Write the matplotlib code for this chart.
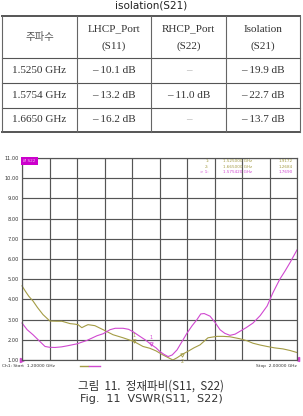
import numpy as np
import matplotlib
matplotlib.use("Agg")
from matplotlib import pyplot as plt

plt.rcParams['font.family'] = ['DejaVu Sans', 'Noto Sans CJK KR']

# table data
title = "isolation(S21)"
header = ["주파수", "LHCP_Port\n(S11)", "RHCP_Port\n(S22)", "Isolation\n(S21)"]
freq_col = ["1.5250 GHz", "1.5754 GHz", "1.6650 GHz"]
lhcp_col = ["– 10.1 dB", "– 13.2 dB", "– 16.2 dB"]
rhcp_col = ["–", "– 11.0 dB", "–"]
iso_col = ["– 19.9 dB", "– 22.7 dB", "– 13.7 dB"]

# VSWR curves (GHz, VSWR)
s11_f = [1.200, 1.210, 1.220, 1.232, 1.245, 1.261, 1.281, 1.300, 1.316, 1.330, 1.340,
         1.352, 1.363, 1.374, 1.383, 1.392, 1.412, 1.436, 1.465, 1.494, 1.525, 1.552,
         1.572, 1.590, 1.610, 1.625, 1.639, 1.652, 1.665, 1.685, 1.700, 1.718, 1.741,
         1.767, 1.785, 1.805, 1.834, 1.855, 1.872, 1.893, 1.913, 1.935, 1.959, 1.980, 2.000]
s11_v = [4.67, 4.40, 4.15, 3.92, 3.60, 3.25, 2.93, 2.92, 2.92, 2.85, 2.80,
         2.78, 2.75, 2.60, 2.68, 2.75, 2.70, 2.50, 2.25, 2.10, 1.92, 1.67,
         1.58, 1.45, 1.25, 1.12, 1.00, 1.12, 1.27, 1.45, 1.60, 1.75, 2.10,
         2.17, 2.17, 2.15, 2.05, 1.95, 1.83, 1.74, 1.67, 1.60, 1.55, 1.47, 1.37]
s22_f = [1.200, 1.215, 1.232, 1.250, 1.267, 1.280, 1.296, 1.315, 1.331, 1.360, 1.389,
         1.418, 1.436, 1.456, 1.471, 1.494, 1.510, 1.523, 1.543, 1.560, 1.5754, 1.590,
         1.601, 1.613, 1.625, 1.637, 1.651, 1.665, 1.680, 1.695, 1.709, 1.720, 1.730,
         1.747, 1.762, 1.776, 1.790, 1.805, 1.820, 1.834, 1.852, 1.872, 1.893, 1.913,
         1.930, 1.950, 1.965, 1.980, 2.000]
s22_v = [2.83, 2.50, 2.25, 1.95, 1.67, 1.63, 1.62, 1.65, 1.70, 1.80, 1.97,
         2.20, 2.30, 2.50, 2.57, 2.57, 2.52, 2.40, 2.17, 1.98, 1.77, 1.60,
         1.42, 1.28, 1.17, 1.25, 1.50, 1.90, 2.33, 2.70, 3.00, 3.28, 3.30,
         3.17, 2.85, 2.50, 2.32, 2.22, 2.28, 2.42, 2.60, 2.83, 3.20, 3.67,
         4.33, 5.00, 5.40, 5.83, 6.45]

# markers
mk_labels = ["1", "2"]
mk_f = [1.525, 1.665]
mk_v = [1.9172, 1.2684]
mk22_f = 1.57542
mk22_v = 1.7690

olive = "#a49c45"
magenta = "#d048d0"
gridc = "#555555"

fig = plt.figure(figsize=(3.03, 4.16), dpi=100)

# page overlay in pixel coords
ax0 = fig.add_axes([0, 0, 1, 1])
ax0.set_xlim(0, 303)
ax0.set_ylim(416, 0)
ax0.axis('off')

ax0.text(151, 6, title, ha='center', va='center', fontsize=7.5, color='#222222')

col_x = [2, 77, 151, 226, 300]
row_y = [16, 58, 83, 108, 132]
for i, y in enumerate(row_y):
    lw = 1.4 if i in (0, len(row_y) - 1) else 0.8
    ax0.plot([col_x[0], col_x[-1]], [y, y], color='#555555', lw=lw)
for x in col_x:
    ax0.plot([x, x], [row_y[0], row_y[-1]], color='#666666', lw=0.8)

serif = ['Liberation Serif', 'Noto Sans CJK KR']
centers = [(col_x[i] + col_x[i + 1]) / 2 for i in range(4)]
ax0.text(centers[0], 37, header[0], ha='center', va='center', fontsize=7.5,
         color='#555555', family=['Noto Sans CJK KR'])
for j in range(1, 4):
    top, bot = header[j].split("\n")
    ax0.text(centers[j], 29, top, ha='center', va='center', fontsize=8, color='#333333', family=serif)
    ax0.text(centers[j], 46, bot, ha='center', va='center', fontsize=8, color='#333333', family=serif)

cols = [freq_col, lhcp_col, rhcp_col, iso_col]
for i in range(3):
    yc = (row_y[i + 1] + row_y[i + 2]) / 2
    for j, col in enumerate(cols):
        txt = col[i]
        c = '#aaaaaa' if txt == "–" else '#333333'
        ax0.text(centers[j], yc, txt, ha='center', va='center', fontsize=8, color=c, family=serif)

# captions
ax0.text(151, 386, "그림  11.  정재파비(S11,  S22)", ha='center', va='center', fontsize=8.3,
         color='#333333', family=['Noto Sans CJK KR'])
ax0.text(151, 399, "Fig.  11  VSWR(S11,  S22)", ha='center', va='center', fontsize=8,
         color='#333333')

# VSWR chart
ax = fig.add_axes([22 / 303, 1 - 360 / 416, 275 / 303, 202 / 416])
ax.set_xlim(1.2, 2.0)
ax.set_ylim(1, 11)
ax.set_xticks(np.linspace(1.2, 2.0, 11))
ax.set_yticks(np.arange(1, 12))
ax.set_yticklabels(["%.2f" % v for v in range(1, 12)], fontsize=3.6, color='#333333')
ax.set_xticklabels([])
ax.tick_params(length=0, pad=2)
ax.grid(True, color=gridc, lw=0.85)
for s in ax.spines.values():
    s.set_color(gridc)
    s.set_linewidth(0.85)

ax.plot(s11_f, s11_v, color=olive, lw=0.8, clip_on=False)
ax.plot(s22_f, s22_v, color=magenta, lw=0.8, clip_on=False)

for lab, f, v in zip(mk_labels, mk_f, mk_v):
    ax.plot(f, v, marker='v', ms=2.5, color=olive, mec=olive, mfc='none', mew=0.6)
    dy = 0.3 if lab == "1" else -0.35
    ax.text(f, v + dy, lab, fontsize=3.5, color=olive, ha='center', va='center')
ax.plot(mk22_f, mk22_v, marker='v', ms=2.5, color=magenta, mfc='none', mew=0.6)
ax.text(mk22_f, mk22_v + 0.35, "1", fontsize=3.5, color=magenta, ha='center', va='center')

# marker readout
ax.text(0.004, 0.993, "Ø S22", transform=ax.transAxes, fontsize=3, color='#f0c0f0',
        va='top', ha='left', bbox=dict(boxstyle='square,pad=0.5', fc='#cc00cc', ec='none'))
rows = [("1:", "%.6f GHz" % mk_f[0], "%.4f" % mk_v[0], olive),
        ("2:", "%.6f GHz" % mk_f[1], "%.4f" % mk_v[1], olive),
        ("> 1:", "%.6f GHz" % mk22_f, "%.4f" % mk22_v, magenta)]
for k, (a, b, c, col) in enumerate(rows):
    yy = 0.983 - k * 0.026
    ax.text(0.68, yy, a, transform=ax.transAxes, fontsize=3, color=col, ha='right', va='center')
    ax.text(0.73, yy, b, transform=ax.transAxes, fontsize=3, color=col, ha='left', va='center')
    ax.text(0.985, yy, c, transform=ax.transAxes, fontsize=3, color=col, ha='right', va='center')

# start/stop footer
ax0.plot(22, 360, marker='>', ms=3, color=magenta, clip_on=False)
ax0.plot(297, 359, marker='<', ms=3, color=magenta, clip_on=False)
ax0.text(2, 366, "Ch1: Start  1.20000 GHz", fontsize=3.2, color='#333333', va='center')
ax0.plot([80, 88], [366, 366], color=olive, lw=1)
ax0.plot([89, 100], [366, 366], color=magenta, lw=1)
ax0.text(297, 366, "Stop  2.00000 GHz", fontsize=3.2, color='#333333', va='center', ha='right')

fig.savefig("out.png", dpi=100)
